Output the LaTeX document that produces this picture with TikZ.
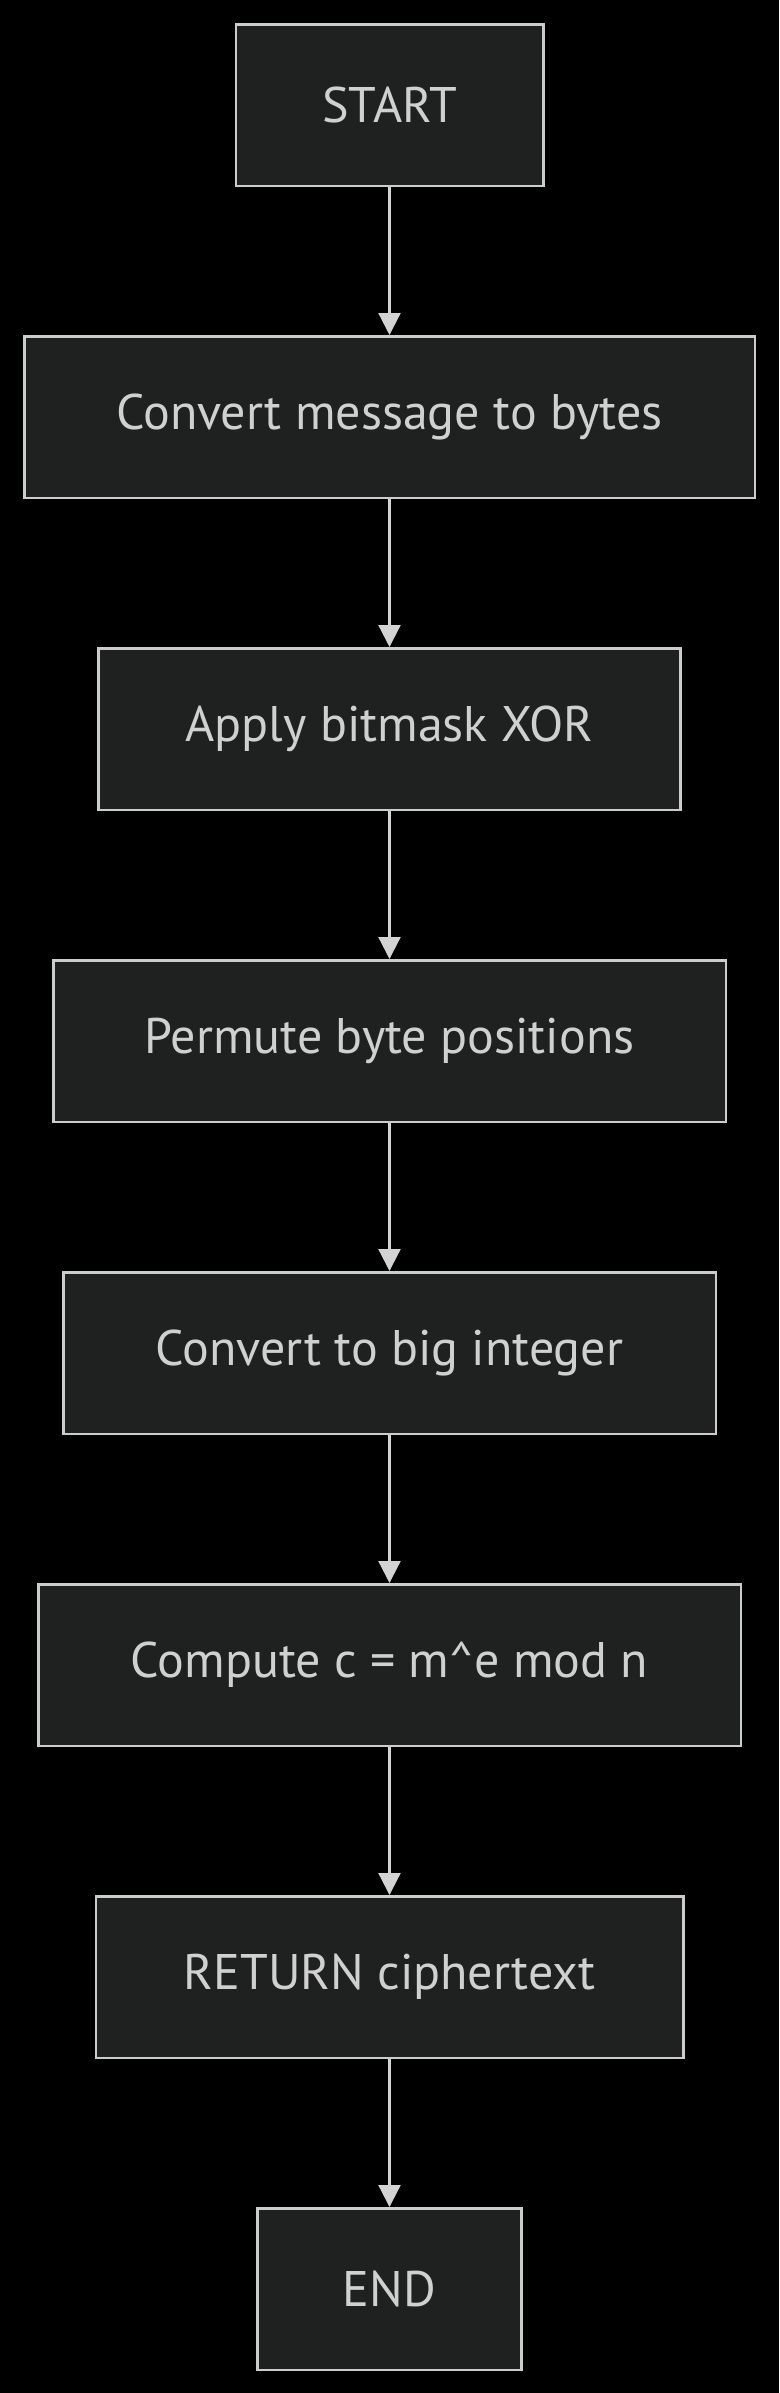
\documentclass[tikz,border=0pt]{standalone}
\usepackage{fontspec}
\setmainfont{PT Sans}
\usetikzlibrary{arrows.meta}
\definecolor{bg}{HTML}{000000}
\definecolor{boxfill}{HTML}{1F2020}
\definecolor{boxline}{HTML}{CCCCCC}
\definecolor{txt}{HTML}{D0D0D0}
\definecolor{conncol}{HTML}{D3D3D3}
\begin{document}
\begin{tikzpicture}[x=1pt,y=-1pt,
  stepbox/.style={draw=boxline, fill=boxfill, line width=2.5pt, rectangle,
    minimum height=161.5pt, inner sep=0pt, text=txt,
    font=\fontsize{50}{56}\selectfont},
  conn/.style={draw=conncol, line width=2.2pt,
    -{Triangle[length=22pt 0 0,width=22pt 0 0]}}]
\fill[bg] (0,0) rectangle (779,2393);
\useasboundingbox (0,0) rectangle (779,2393);
\node[stepbox, minimum width=307.5pt] (start) at (389.5,105) {START};
\node[stepbox, minimum width=730.5pt] (conv) at (389.5,417) {Convert message to bytes};
\node[stepbox, minimum width=582pt] (xor) at (389.5,729) {Apply bitmask XOR};
\node[stepbox, minimum width=672.5pt] (perm) at (389.5,1041) {Permute byte positions};
\node[stepbox, minimum width=652.5pt] (bigint) at (389.5,1353) {Convert to big integer};
\node[stepbox, minimum width=702.5pt] (comp) at (389.5,1665) {Compute c = m\^{}e mod n};
\node[stepbox, minimum width=587.5pt] (ret) at (389.5,1977) {RETURN ciphertext};
\node[stepbox, minimum width=264pt] (end) at (389.5,2289) {END};
\draw[conn] (start) -- (conv);
\draw[conn] (conv) -- (xor);
\draw[conn] (xor) -- (perm);
\draw[conn] (perm) -- (bigint);
\draw[conn] (bigint) -- (comp);
\draw[conn] (comp) -- (ret);
\draw[conn] (ret) -- (end);
\end{tikzpicture}
\end{document}
